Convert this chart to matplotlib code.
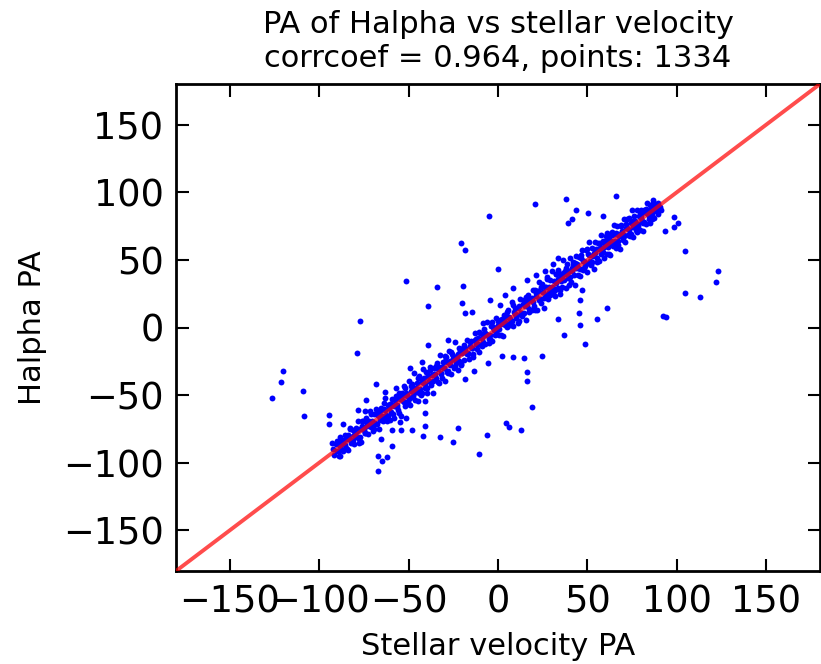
import matplotlib
matplotlib.use("Agg")
import matplotlib.pyplot as plt

# ---- data ----
band_x = [-92,-91.4,-90.8,-90.1,-89.6,-89.0,-88.5,-88.1,-87.6,-87.0,-86.4,-85.9,-85.3,-84.8,-84.2,-83.7,-83.1,-82.6,-82.0,-81.5,
          -80.9,-80.3,-79.8,-79.2,-78.7,-78.1,-77.5,-77.0,-76.4,-75.9,-75.3,-74.8,-74.2,-73.6,-73.1,-72.5,-72.0,-71.4,-70.9,-70.3,
          -69.7,-69.2,-68.6,-68.1,-67.5,-66.9,-66.4,-65.8,-65.3,-64.7,-64.1,-63.6,-63.0,-62.5,-61.9,-61.4,-60.8,-60.3,
          -59.7,-59.2,-58.6,-58.0,-57.5,-57.0,-56.4,-55.9,-55.3,-54.7,-54.2,-53.6,-53.1,-52.5,-52.0,-51.4,-50.8,-50.3,-49.7,-49.2,
          -48.6,-48.0,-47.5,-46.9,-46.4,-45.8,-45.3,-44.7,-44.1,-43.6,-43.0,-42.5,-41.9,-41.3,-40.8,-40.2,-39.7,-39.1,-38.6,-38.0,
          -37.4,-36.9,-36.3,-35.8,-35.2,-34.6,-34.1,-33.5,-33.0,-32.4,-31.9,-31.3,-30.7,-30.2,-29.6,-29.1,-28.5,-27.9,-27.4,-26.8,
          -26.3,-25.7,-25.2,-24.6,-24.0,-23.5,-22.9,-22.4,-21.8,-21.2,-20.7,-20.1,
          -19.5,-18.9,-18.2,-17.6,-16.9,-16.3,-15.6,-15.0,-14.3,-13.7,-13.0,-12.4,-11.7,-11.1,-10.4,-9.8,-9.1,-8.5,-7.8,-7.2,
          -6.5,-5.9,-5.2,-4.6,-3.9,-3.3,-2.6,-2.0,-1.3,-0.7,0.0,0.6,1.3,1.9,2.6,3.2,3.9,4.5,5.2,5.8,
          6.5,7.1,7.8,8.4,9.1,9.7,10.4,11.0,11.7,12.3,13.0,13.6,14.3,14.9,15.6,16.2,16.9,17.5,18.2,18.8,19.5,
          20.1,20.6,21.2,21.7,22.3,22.8,23.4,23.9,24.5,25.0,25.6,26.1,26.7,27.2,27.8,28.3,28.9,29.4,30.0,30.5,
          31.1,31.6,32.2,32.7,33.3,33.8,34.4,34.9,35.5,36.0,36.6,37.1,37.7,38.2,38.8,39.3,39.9,40.4,41.0,41.5,
          42.1,42.6,43.2,43.7,44.3,44.8,45.4,45.9,46.5,47.0,47.6,48.1,48.7,49.2,49.8,50.3,50.9,51.4,52.0,52.5,
          53.1,53.6,54.2,54.7,55.3,55.8,56.4,56.9,57.5,58.0,58.6,59.1,59.7,
          60.2,60.7,61.2,61.7,62.2,62.7,63.2,63.7,64.2,64.7,65.2,65.7,66.2,66.7,67.2,67.7,68.2,68.7,69.2,69.7,
          70.2,70.7,71.2,71.7,72.2,72.7,73.2,73.7,74.2,74.7,75.2,75.7,76.2,76.7,77.2,77.7,78.2,78.7,79.2,79.7,
          80.2,80.7,81.2,81.7,82.2,82.7,83.2,83.7,84.2,84.7,85.2,85.7,86.2,86.7,87.2,87.7,88.2,88.7,89.2,89.7,90.3,91.0]
band_y = [-90,-94.4,-85.8,-91.1,-85.6,-95.0,-87.5,-81.1,-89.6,-84.0,-91.4,-85.9,-79.3,-88.8,-82.2,-90.7,-80.1,-74.6,-83.0,-84.5,
          -75.9,-86.3,-78.8,-75.2,-80.7,-69.1,-82.5,-75.0,-84.4,-72.9,-69.3,-75.8,-78.2,-66.6,-73.1,-78.5,-69.0,-61.4,-73.9,-69.3,
          -76.7,-64.2,-70.6,-60.1,-71.5,-64.9,-75.4,-61.8,-59.3,-65.7,-69.1,-60.6,-52.0,-64.5,-67.9,-57.4,-59.8,-68.3,
          -62.7,-53.2,-57.6,-67.0,-53.5,-45.0,-58.4,-60.9,-48.3,-52.7,-65.2,-48.6,-54.1,-43.5,-58.0,-48.4,-50.8,-54.3,-39.7,-57.2,
          -46.6,-42.0,-50.5,-33.9,-53.4,-44.8,-41.3,-54.7,-36.1,-45.6,-38.0,-48.5,-30.9,-41.3,-44.8,-33.2,-48.7,-36.1,-39.6,-29.0,
          -42.4,-34.9,-48.3,-29.8,-34.2,-37.6,-26.1,-40.5,-29.0,-20.4,-33.9,-37.3,-25.7,-30.2,-39.6,-22.1,-25.5,-31.9,-17.4,-27.8,
          -34.3,-19.7,-23.2,-29.6,-11.0,-26.5,-21.9,-31.4,-14.8,-17.2,-26.7,-18.1,
          -15.5,-23.9,-17.2,-9.6,-19.9,-23.3,-13.6,-10.0,-15.3,-19.7,-4.0,-12.4,-15.7,-8.1,-18.4,-3.8,-8.1,-10.5,-0.8,-12.2,
          -4.5,4.1,-8.2,-5.6,1.1,-10.3,0.4,-2.0,6.7,-4.7,2.0,-5.4,5.3,2.9,-6.4,9.2,1.9,7.5,0.2,12.8,
          6.5,4.1,18.8,1.4,11.1,14.7,9.4,3.0,15.7,21.3,11.0,8.6,20.3,15.9,5.6,19.2,23.9,13.5,20.2,12.8,27.5,
          16.1,27.6,23.2,12.7,27.3,33.8,21.4,17.9,32.5,26.0,14.6,30.1,23.7,37.2,20.8,30.3,34.9,28.4,42.0,25.5,
          34.1,23.6,39.2,32.7,29.3,42.8,24.4,39.9,36.5,30.0,49.6,35.1,41.7,29.2,46.8,36.3,41.9,51.4,34.0,41.5,
          48.1,38.6,31.2,52.7,47.3,43.8,52.4,37.9,51.5,57.0,42.6,49.1,45.7,57.2,40.8,54.3,62.9,49.4,46.0,58.5,
          53.1,43.6,63.2,57.7,51.3,62.8,49.4,58.9,68.5,55.0,63.6,51.1,60.7,
          63.2,54.7,70.2,59.7,67.2,53.7,64.2,70.7,60.2,75.7,64.2,58.7,70.2,74.7,64.2,67.7,58.2,74.7,71.2,64.7,
          80.2,68.7,63.2,76.7,73.2,68.7,81.2,67.7,77.2,86.7,74.2,66.7,82.2,78.7,72.2,86.7,75.2,82.7,72.2,80.7,
          87.2,78.7,71.2,86.7,85.2,76.7,92.2,83.7,80.2,90.7,77.2,87.7,83.2,91.7,81.2,88.7,91.2,86.7,84.2,91.7,89.3,87.0]

core_x = [-89,-87.3,-85.5,-83.8,-82.1,-80.4,-78.6,-76.9,-75.2,-73.5,-71.7,-70.0,-68.3,-66.6,-64.8,-63.1,-61.4,-59.7,-57.9,-56.2,
          -54.5,-52.8,-51.0,-49.3,-47.6,-45.9,-44.1,-42.4,-40.7,-39.0,-37.2,-35.5,-33.8,-32.1,-30.3,-28.6,-26.9,-25.2,-23.4,-21.7,
          -20.0,-18.3,-16.5,-14.8,-13.1,-11.4,-9.6,-7.9,-6.2,-4.5,-2.7,-1.0,0.7,2.4,4.2,5.9,7.6,9.3,11.1,12.8,
          14.5,16.2,18.0,19.7,21.4,23.1,24.9,26.6,28.3,30.0,31.8,33.5,35.2,36.9,38.7,40.4,42.1,43.8,45.6,47.3,
          49.0,50.7,52.5,54.2,55.9,57.6,59.4,61.1,62.8,64.5,66.3,68.0,69.7,71.4,73.2,74.9,76.6,78.3,80.1,81.8,
          83.5,85.2,87.0,88.7]
core_y = [-91,-84.3,-86.5,-79.8,-85.1,-79.4,-76.6,-80.9,-75.2,-70.5,-72.7,-73.0,-64.3,-65.6,-66.8,-61.1,-65.4,-56.7,-57.9,-57.2,
          -50.5,-54.8,-50.0,-52.3,-44.6,-45.9,-48.1,-40.4,-41.7,-35.0,-40.2,-34.5,-30.8,-34.1,-30.3,-32.6,-24.9,-21.2,-24.4,-24.7,
          -19.0,-15.3,-18.5,-14.8,-9.1,-12.4,-12.6,-5.9,-5.2,-8.5,0.3,-1.0,-1.3,6.4,3.2,7.9,4.6,10.3,14.1,10.8,
          10.5,16.2,20.0,18.7,25.4,20.1,25.9,29.6,26.3,30.0,27.8,35.5,34.2,39.9,39.7,37.4,46.1,43.8,43.6,49.3,
          48.0,53.7,48.5,55.2,57.9,54.6,59.4,65.1,61.8,62.5,69.3,69.0,66.7,73.4,72.2,78.9,76.6,76.3,83.1,77.8,
          84.5,87.2,86.0,88.7]

mid_x = [-90.2,-88.2,-86.4,-84.6,-82.9,-81.2,-79.5,-77.7,-76.0,-74.3,-72.6,-70.8,-69.1,-67.4,-65.7,-63.9,-62.2,-60.5,-58.8,-57.0,
         -55.3,-53.6,-51.9,-50.1,-48.4,-46.7,-45.0,-43.2,-41.5,-39.8,-38.1,-36.3,-34.6,-32.9,-31.2,-29.4,-27.7,-26.0,-24.3,-22.5,
         -20.8,-19.1,-17.4,-15.6,-13.9,-12.2,-10.5,-8.7,-7.0,-5.3,-3.6,-1.8,-0.1,1.6,3.3,5.1,6.8,8.5,10.2,12.0,
         13.7,15.4,17.1,18.9,20.6,22.3,24.0,25.8,27.5,29.2,30.9,32.7,34.4,36.1,37.8,39.6,41.3,43.0,44.7,46.5,
         48.2,49.9,51.6,53.4,55.1,56.8,58.5,60.3,62.0,63.7,65.4,67.2,68.9,70.6,72.3,74.1,75.8,77.5,79.2,81.0,
         82.7,84.4,86.1,87.9,89.6]
mid_y = [-84.2,-95.2,-83.4,-89.6,-74.9,-83.2,-74.5,-85.7,-69.0,-78.3,-70.6,-63.8,-75.1,-62.4,-68.7,-55.9,-69.2,-56.5,-63.8,-51.0,
         -63.3,-50.6,-44.9,-56.1,-43.4,-48.7,-37.0,-50.2,-37.5,-44.8,-31.1,-39.3,-28.6,-40.9,-29.2,-24.4,-33.7,-18.0,-28.3,-19.5,
         -27.8,-13.1,-19.4,-10.6,-21.9,-8.2,-3.5,-13.7,-4.0,-11.3,4.4,-5.8,4.9,-5.4,5.3,11.1,1.8,16.5,7.2,5.0,
         17.7,22.4,11.1,21.9,12.6,27.3,30.0,21.8,35.5,24.2,28.9,39.7,27.4,40.1,43.8,31.6,44.3,48.0,38.7,53.5,
         44.2,57.9,46.6,55.4,48.1,62.8,55.5,67.3,54.0,68.7,69.4,61.2,75.9,67.6,80.3,69.1,77.8,70.5,85.2,77.0,
         87.7,82.4,80.1,90.9,86.6]

outlier_x = [-126.3,-120.0,-121.3,-108.8,-108.3,-94.5,-94.6,-86.5,-78.6,-77.1,-51.6,-34.1,-39.3,-68.4,-63.2,-73.6,-78.1,-74.3,
             -66.9,-65.0,-61.9,-66.9,-59.0,-48.3,-54.0,-41.7,-32.4,-40.8,-40.8,-40.8,-39.0,-29.6,-49.2,-42.6,-27.8,
             20.5,-5.0,38.0,66.0,43.4,50.5,58.5,39.3,41.2,-20.8,-18.4,-0.2,-19.7,-20.3,-18.4,-14.7,60.8,55.2,45.3,45.8,
             33.7,46.8,45.8,-4.5,16.0,33.7,36.9,48.6,24.4,14.5,8.6,16.4,16.0,19.2,4.5,6.1,13.0,-6.0,-22.5,-25.0,-10.5,
             -5.4,-13.4,-18.4,2.0,104.5,123.2,122.0,104.5,112.9,92.0,93.9,98.4,100.8,98.4,93.5,86.8,-65.4,-59.0,-54.8,
             -51.4,-92.6,8.6,4.0,21.0,26.0,31.0,1.1,-8.2]
outlier_y = [-52.3,-31.9,-40.0,-46.9,-65.4,-64.7,-71.5,-71.3,-19.1,5.0,34.6,29.9,15.7,-41.8,-47.7,-53.4,-61.0,-61.7,
             -95.0,-98.5,-96.0,-106.0,-87.6,-75.8,-75.8,-80.0,-81.2,-72.6,-63.4,-54.1,-12.9,-20.8,-30.2,-25.7,-9.2,
             91.3,82.6,95.0,97.4,86.8,84.4,82.4,77.5,80.0,62.2,57.3,43.5,30.7,18.3,10.9,11.7,14.6,6.1,10.5,1.8,
             6.1,27.7,20.3,20.3,35.1,51.1,-5.5,-12.4,-21.1,-22.8,-21.6,-32.7,-39.5,-59.0,-70.4,-73.3,-75.5,-79.7,-74.0,-84.4,-93.3,
             -26.5,-32.2,-38.3,-21.1,56.8,41.8,33.6,25.3,22.5,8.5,8.0,81.4,77.0,74.0,71.3,94.2,-82.4,-75.8,-69.6,
             -67.1,-85.6,29.0,24.0,39.0,42.0,47.0,16.6,3.1]

line_x = [-180, 180]
line_y = [-180, 180]

ticks = [-150, -100, -50, 0, 50, 100, 150]
title_text = "PA of Halpha vs stellar velocity\ncorrcoef = 0.964, points: 1334"
xlabel_text = "Stellar velocity PA"
ylabel_text = "Halpha PA"

# ---- figure ----
fig = plt.figure(figsize=(8.21, 6.64), dpi=100)
ax = fig.add_axes([176/821, 93/664, 644/821, 487/664])

all_x = band_x + core_x + mid_x + outlier_x
all_y = band_y + core_y + mid_y + outlier_y
ax.scatter(all_x, all_y, s=18, c='b', linewidths=0, zorder=2)
ax.plot(line_x, line_y, color='r', lw=2.8, alpha=0.7, zorder=3)

ax.set_xlim(-180, 180)
ax.set_ylim(-180, 180)
ax.set_xticks(ticks)
ax.set_yticks(ticks)
ax.tick_params(direction='in', length=9, width=1.5, labelsize=26.5, pad=9,
               top=True, right=True)
for sp in ax.spines.values():
    sp.set_linewidth(2)

ax.set_title(title_text, fontsize=22, linespacing=1.22, pad=12.5)
ax.set_xlabel(xlabel_text, fontsize=22, labelpad=8)
ax.set_ylabel(ylabel_text, fontsize=22, labelpad=11)

fig.savefig("out.png", dpi=100)
